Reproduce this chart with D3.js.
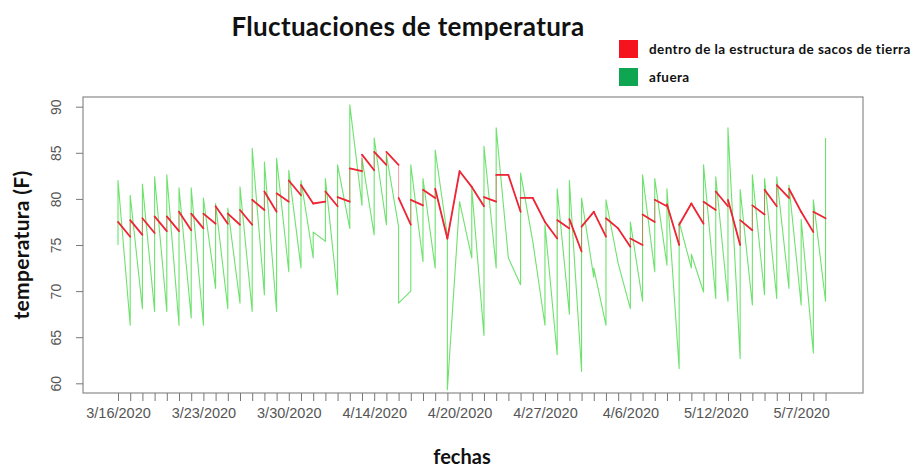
<!DOCTYPE html>
<html lang="es">
<head>
<meta charset="UTF-8">
<title>Fluctuaciones de temperatura</title>
<script src="https://d3js.org/d3.v7.min.js"></script>
<style>
    body { margin: 0; background: #fff; }
    svg { display: block; }
    .title { font-family: Lato, sans-serif; font-weight: 700; fill: #111; }
    .tick text { font-family: "Liberation Sans", Arial, sans-serif; fill: #555; }
    .tick line { stroke: #777; }
</style>
</head>
<body>
<div id="chart"></div>
<script>
// dates as they come out of the (alphabetically sorted) factor
const dates = ["3/16/2020","3/17/2020","3/18/2020","3/19/2020","3/20/2020","3/21/2020","3/22/2020",
    "3/23/2020","3/24/2020","3/25/2020","3/26/2020","3/27/2020","3/28/2020","3/29/2020",
    "3/30/2020","3/31/2020","4/1/2020","4/10/2020","4/11/2020","4/12/2020","4/13/2020",
    "4/14/2020","4/15/2020","4/16/2020","4/17/2020","4/18/2020","4/19/2020","4/2/2020",
    "4/20/2020","4/21/2020","4/22/2020","4/23/2020","4/24/2020","4/25/2020","4/26/2020",
    "4/27/2020","4/28/2020","4/29/2020","4/3/2020","4/30/2020","4/4/2020","4/5/2020",
    "4/6/2020","4/7/2020","4/8/2020","4/9/2020","5/1/2020","5/10/2020","5/11/2020",
    "5/12/2020","5/13/2020","5/2/2020","5/3/2020","5/4/2020","5/5/2020","5/6/2020",
    "5/7/2020","5/8/2020","5/9/2020"];

// outside (afuera): first and last reading drawn at each date
const outsideFirst = [75.0,66.3,68.1,67.8,67.8,66.3,67.1,66.3,70.3,68.1,68.7,67.8,69.6,67.8,72.1,72.5,73.6,75.4,69.6,76.8,
    79.3,76.1,77.2,77.0,70.0,73.2,72.5,76.0,79.7,73.6,65.2,72.5,73.6,70.7,75.4,66.3,63.1,67.5,61.3,71.5,
    66.3,73.0,68.1,68.9,72.1,72.8,61.6,72.5,69.9,69.2,68.9,62.7,68.5,69.6,69.2,70.3,68.5,63.3,68.9];
const outsideLast = [82.0,80.4,81.6,82.4,82.6,81.2,81.2,80.1,79.5,79.0,81.3,85.5,84.0,84.4,83.1,82.0,76.4,82.2,83.7,90.2,
    84.4,86.6,84.8,68.7,83.7,82.2,85.3,59.3,79.7,81.1,85.7,87.7,73.6,82.8,75.4,77.2,81.1,82.0,80.1,72.5,
    79.9,73.0,77.5,82.6,82.2,81.1,77.5,74.0,83.7,82.4,87.7,81.0,82.6,82.2,82.4,81.5,77.8,79.9,86.6];

// inside the sandbag structure (dentro)
const insideFirst = [77.5,75.9,76.1,76.3,76.5,76.5,76.6,76.8,77.3,77.3,77.2,77.2,78.8,78.6,79.7,80.4,79.5,79.7,79.2,79.7,
    83.0,83.1,83.7,83.7,77.2,79.3,80.1,75.7,83.0,81.3,79.2,79.7,82.6,78.6,80.1,77.5,75.7,76.8,74.3,78.6,
    75.9,76.8,74.8,75.0,77.5,79.2,75.0,79.5,77.3,78.8,79.2,75.0,76.6,78.3,79.2,80.1,78.6,76.4,77.9];
const insideLast = [77.5,77.7,77.9,78.1,78.1,78.6,78.4,78.4,79.2,78.4,78.8,79.9,80.8,80.6,82.0,81.5,79.5,80.8,80.2,83.3,
    84.8,85.1,85.1,80.1,79.9,81.0,81.1,75.7,83.0,81.3,80.2,82.6,82.6,80.1,80.1,77.5,77.7,77.8,77.0,78.6,
    77.9,76.8,75.7,78.3,79.9,79.4,77.2,79.5,79.7,80.8,79.9,77.7,79.3,81.0,81.5,81.1,78.6,78.6,77.9];

const yTicks = [60, 65, 70, 75, 80, 85, 90];
const seriesNames = ["dentro de la estructura de sacos de tierra", "afuera"];
const legendColors = ["#f5141e", "#0ea651"];

const width = 914, height = 469;
const box = {left: 83, right: 863, top: 97, bottom: 393};

const svg = d3.select("#chart").append("svg")
    .attr("width", width)
    .attr("height", height);

// R-style padded domains
const x = d3.scaleLinear().domain([-1.87, 62.07]).range([box.left, box.right]);
const y = d3.scaleLinear().domain([58.95, 91.05]).range([box.bottom, box.top]);

function toPoints(first, last) {
    const pts = [];
    first.forEach((v, i) => {
        pts.push([i + 1, v]);
        pts.push([i + 1, last[i]]);
    });
    return pts;
}

// the sloping part between one date and the next
function toSegments(first, last) {
    return last.slice(0, -1).map((v, i) => [[i + 1, v], [i + 2, first[i + 1]]]);
}

const line = d3.line().x(d => x(d[0])).y(d => y(d[1]));

svg.append("path")
    .datum(toPoints(outsideFirst, outsideLast))
    .attr("d", line)
    .attr("fill", "none")
    .attr("stroke", "#2fd62f")
    .attr("stroke-opacity", 0.7)
    .attr("stroke-width", 1.1)
    .attr("stroke-linejoin", "round");

svg.append("path")
    .datum(toPoints(insideFirst, insideLast))
    .attr("d", line)
    .attr("fill", "none")
    .attr("stroke", "#ee2535")
    .attr("stroke-opacity", 0.55)
    .attr("stroke-width", 0.8);

svg.selectAll(".inside-seg")
    .data(toSegments(insideFirst, insideLast))
    .join("path")
    .attr("class", "inside-seg")
    .attr("d", line)
    .attr("fill", "none")
    .attr("stroke", "#ee2535")
    .attr("stroke-width", 1.8)
    .attr("stroke-linecap", "round");

// plot box
svg.append("rect")
    .attr("x", box.left).attr("y", box.top)
    .attr("width", box.right - box.left).attr("height", box.bottom - box.top)
    .attr("fill", "none").attr("stroke", "#8a8a8a").attr("stroke-width", 1.2);

// x axis: a tick per date, label every 7th (R drops the overlapping ones)
const xAxis = svg.append("g")
    .attr("transform", `translate(0,${box.bottom})`)
    .call(d3.axisBottom(x)
        .tickValues(dates.map((d, i) => i + 1))
        .tickFormat((d, i) => i % 7 === 0 ? dates[i] : "")
        .tickSize(8).tickPadding(7));
xAxis.select(".domain").remove();
xAxis.selectAll("text").style("font-size", "14.5px");

// y axis with rotated labels
const yAxis = svg.append("g")
    .attr("transform", `translate(${box.left},0)`)
    .call(d3.axisLeft(y).tickValues(yTicks).tickSize(7).tickPadding(0));
yAxis.select(".domain").remove();
yAxis.selectAll("text")
    .style("font-size", "14px")
    .attr("x", null).attr("dy", null)
    .attr("text-anchor", "middle")
    .attr("transform", "translate(-27,0) rotate(-90)")
    .attr("dy", "0.35em");

// titles
svg.append("text").attr("class", "title")
    .attr("x", 408).attr("y", 36)
    .attr("text-anchor", "middle")
    .style("font-size", "26px")
    .style("letter-spacing", "0.3px")
    .text("Fluctuaciones de temperatura");

svg.append("text").attr("class", "title")
    .attr("x", 462).attr("y", 464)
    .attr("text-anchor", "middle")
    .style("font-size", "20px")
    .text("fechas");

svg.append("text").attr("class", "title")
    .attr("transform", "translate(29,245) rotate(-90)")
    .attr("text-anchor", "middle")
    .style("font-size", "21px")
    .style("letter-spacing", "0.3px")
    .text("temperatura (F)");

// legend
const legend = svg.append("g").attr("transform", "translate(619,40)");
seriesNames.forEach((name, i) => {
    const g = legend.append("g").attr("transform", `translate(0,${i * 28})`);
    g.append("rect").attr("width", 19).attr("height", 18).attr("fill", legendColors[i]);
    g.append("text").attr("class", "title")
        .attr("x", 30).attr("y", 14)
        .style("font-size", "13.5px")
        .style("letter-spacing", "0.4px")
        .text(name);
});
</script>
</body>
</html>
